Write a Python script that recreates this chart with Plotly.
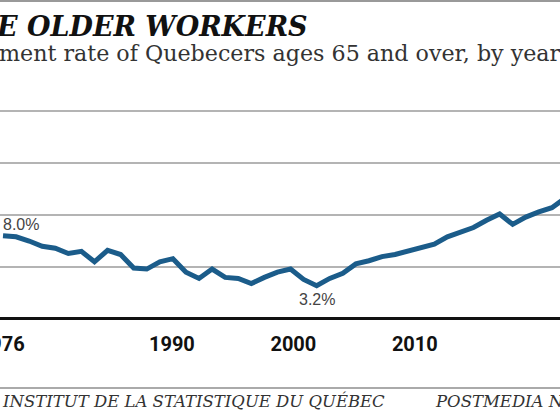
import plotly.graph_objects as go

# ---- data ----
years = [1976, 1977, 1978, 1979, 1980, 1981, 1982, 1983, 1984, 1985,
         1986, 1987, 1988, 1989, 1990, 1991, 1992, 1993, 1994, 1995,
         1996, 1997, 1998, 1999, 2000, 2001, 2002, 2003, 2004, 2005,
         2006, 2007, 2008, 2009, 2010, 2011, 2012, 2013, 2014, 2015,
         2016, 2017, 2018, 2019]
rate = [8.0, 7.9, 7.5, 7.0, 6.8, 6.3, 6.5, 5.5, 6.6, 6.2,
        4.9, 4.8, 5.5, 5.8, 4.5, 3.9, 4.8, 4.0, 3.9, 3.4,
        4.0, 4.5, 4.8, 3.8, 3.2, 3.9, 4.4, 5.3, 5.6, 6.0,
        6.2, 6.5, 6.8, 7.2, 7.9, 8.4, 8.8, 9.5, 10.1, 9.1,
        9.8, 10.3, 10.7, 11.6]
tick_years = [1976, 1990, 2000, 2010]
tick_text = ["1976", "1990", "2000", "2010"]
grid_vals = [0, 5, 10, 15, 20]

title_text = "E OLDER WORKERS"
subtitle_text = "ment rate of Quebecers ages 65 and over, by year"
source_text = "INSTITUT DE LA STATISTIQUE DU QUÉBEC"
credit_text = "POSTMEDIA NEWS"

W, H = 560, 420
T, B = 108, 98
plot_h = H - T - B


def py(p):
    """pixel row -> paper y"""
    return (H - B - p) / plot_h


fig = go.Figure()
fig.add_trace(go.Scatter(
    x=years, y=rate, mode="lines",
    line=dict(color="#1b5c8a", width=5),
    hoverinfo="skip", showlegend=False,
))
# invisible helper so the label axis is drawn
fig.add_trace(go.Scatter(x=[tick_years[0]], y=[rate[0]], xaxis="x2",
                         mode="markers", marker=dict(opacity=0),
                         hoverinfo="skip", showlegend=False))

fig.add_annotation(x=years[0], y=rate[0], text="8.0%", showarrow=False,
                   xanchor="left", yanchor="bottom", yshift=1, xshift=-2,
                   font=dict(family="Liberation Sans", size=16, color="#444"))
i_min = rate.index(min(rate))
fig.add_annotation(x=years[i_min], y=rate[i_min], text="3.2%", showarrow=False,
                   xanchor="center", yanchor="top", yshift=-3,
                   font=dict(family="Liberation Sans", size=16, color="#444"))

# title / subtitle / source
fig.add_annotation(xref="paper", yref="paper", x=0, y=py(26), xshift=-6,
                   text="<b><i>" + title_text + "</i></b>", showarrow=False,
                   xanchor="left", yanchor="middle",
                   font=dict(family="DejaVu Serif", size=27, color="#111"))
fig.add_annotation(xref="paper", yref="paper", x=0, y=py(53), xshift=-3,
                   text=subtitle_text, showarrow=False,
                   xanchor="left", yanchor="middle",
                   font=dict(family="DejaVu Serif", size=22.2, color="#333"))
fig.add_annotation(xref="paper", yref="paper", x=0, y=py(401),
                   text="<i>" + source_text + "</i>", showarrow=False,
                   xanchor="left", yanchor="middle",
                   font=dict(family="DejaVu Serif", size=16.5, color="#333"))
fig.add_annotation(xref="paper", yref="paper", x=433 / W, y=py(401),
                   text="<i>" + credit_text + "</i>", showarrow=False,
                   xanchor="left", yanchor="middle",
                   font=dict(family="DejaVu Serif", size=16.5, color="#333"))

# rules
fig.add_shape(type="line", xref="paper", yref="paper", x0=0, x1=1,
              y0=py(1), y1=py(1), line=dict(color="#999", width=2))
fig.add_shape(type="line", xref="paper", yref="paper", x0=0, x1=1,
              y0=py(388), y1=py(388), line=dict(color="#aaa", width=2))

fig.update_layout(
    width=W, height=H,
    margin=dict(l=0, r=0, t=T, b=B, autoexpand=False),
    paper_bgcolor="white", plot_bgcolor="white",
    xaxis=dict(range=[1975.77, 2018.62], showgrid=False, showticklabels=False,
               zeroline=False, ticks="", automargin=False),
    xaxis2=dict(range=[1975.85, 2021.95], overlaying="x", anchor="y",
                side="bottom", tickvals=tick_years, ticktext=tick_text,
                showgrid=False, zeroline=False, ticks="", automargin=False,
                ticklabeloverflow="allow", ticklabelstandoff=8,
                tickfont=dict(family="Roboto", size=20,
                              color="#111", weight="bold")),
    yaxis=dict(range=[-0.29, 20.29], tickvals=grid_vals, showticklabels=False,
               gridcolor="#b4b4b4", gridwidth=2, zeroline=True,
               zerolinecolor="#111", zerolinewidth=3, ticks="", automargin=False,
               showline=True, linecolor="#e2e2e2", linewidth=1),
)

fig.write_html("out.html")
